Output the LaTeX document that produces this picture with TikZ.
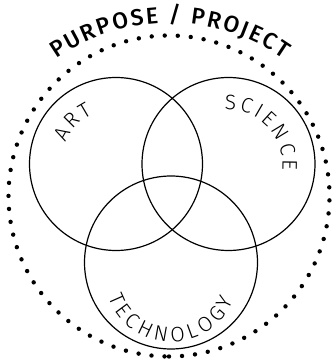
\documentclass[tikz,border=0pt]{standalone}
\usepackage{fontspec}
\setmainfont{Fira Sans}
\newfontfamily\vennfont{Fira Sans Light}
\newfontfamily\titlefont{Fira Sans Medium}
\usetikzlibrary{decorations.text}
\newcommand\vennlbl{\vennfont\fontsize{21}{21}\selectfont}
\newcommand\ringtitle{\titlefont\fontsize{23}{23}\selectfont}
\begin{document}
\begin{tikzpicture}[x=1pt,y=1pt,
  venn/.style={circle, draw, line width=1.2pt, minimum size=173pt, inner sep=0pt},
  dotring/.style={line width=4.4pt, line cap=round, dash pattern=on 0pt off 13.04pt},
  arclabel/.style={decorate, decoration={text along path, text align={fit to path}, text={#1}}}
]
\useasboundingbox (0,0) rectangle (333,362);
\coordinate (ring) at (169,166);
\coordinate (titlec) at (170,141);
\coordinate (techc) at (171.5,87);
\draw[dotring] ([shift={(0,-160.5)}]ring) arc[start angle=-90, end angle=270, radius=160.5];
\node[venn] (art) at (116,198) {};
\node[venn] (sci) at (228.5,198) {};
\node[venn] (tech) at (171,99.5) {};
\path[arclabel={|\vennlbl|ART}] ([shift={(157:55)}]art.center) arc[start angle=157, end angle=115, radius=55];
\path[arclabel={|\vennlbl|SCIENCE}] ([shift={(94:54)}]sci.center) arc[start angle=94, end angle=-6.5, radius=54];
\path[arclabel={|\vennlbl|TECHNOLOGY}] ([shift={(199.5:67)}]techc) arc[start angle=199.5, end angle=338, radius=67];
\path[arclabel={|\ringtitle|PURPOSE / PROJECT}] ([shift={(125:198)}]titlec) arc[start angle=125, end angle=55, radius=198];
\end{tikzpicture}
\end{document}
